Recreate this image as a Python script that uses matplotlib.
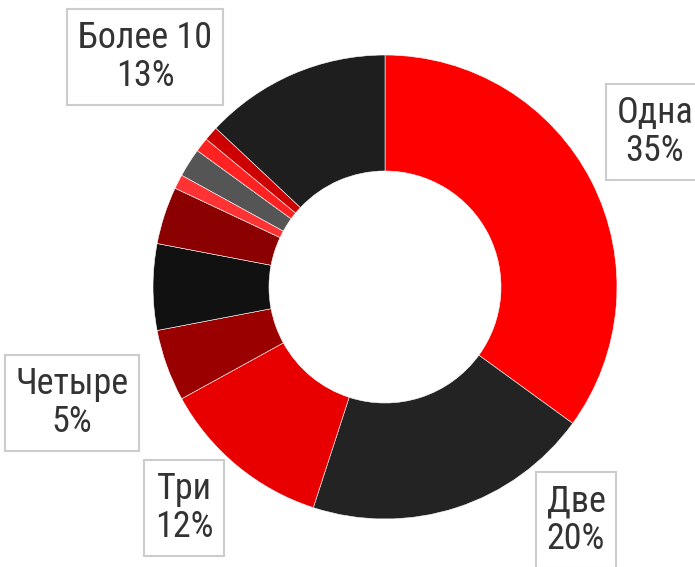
import matplotlib
matplotlib.use("Agg")
import matplotlib.pyplot as plt

names = ["Одна", "Две", "Три", "Четыре", "Пять", "Шесть", "Семь", "Восемь", "Девять", "Десять", "Более 10"]
values = [35, 20, 12, 5, 6, 4, 1, 2, 1, 1, 13]
show_label = [True, True, True, True, False, False, False, False, False, False, True]
colors = ["#ff0000", "#232323", "#e80000", "#9a0000", "#111111", "#8b0000",
          "#ff3333", "#555555", "#ff2222", "#cc0000", "#1e1e1e"]

plt.rcParams["font.family"] = ["Roboto Condensed", "PT Sans Narrow", "DejaVu Sans"]

W, H = 695, 567
fig = plt.figure(figsize=(W / 100, H / 100), dpi=100)
cx, cy, R = 385, 287, 232
ax = fig.add_axes([(cx - R) / W, (H - cy - R) / H, 2 * R / W, 2 * R / H])
ax.pie(values, colors=colors, startangle=90, counterclock=False, radius=1,
       wedgeprops=dict(width=0.5, edgecolor="white", linewidth=0.4))
ax.set_xlim(-1, 1)
ax.set_ylim(-1, 1)
ax.set_aspect("equal")
ax.axis("off")

# label centre positions in pixels
label_pos = {"Одна": (655, 132), "Две": (576, 520), "Три": (184, 508),
             "Четыре": (72, 403), "Более 10": (145, 57)}
total = sum(values)
for n, v, s in zip(names, values, show_label):
    if not s:
        continue
    px, py = label_pos[n]
    ax.text((px - cx) / R, (cy - py) / R, f"{n}\n{round(v / total * 100)}%",
            ha="center", va="center", fontsize=26, color="#333333", linespacing=1.05,
            bbox=dict(boxstyle="square,pad=0.3", facecolor="white", edgecolor="#cccccc", linewidth=1.5),
            clip_on=False)

fig.savefig("out.png", dpi=100)
